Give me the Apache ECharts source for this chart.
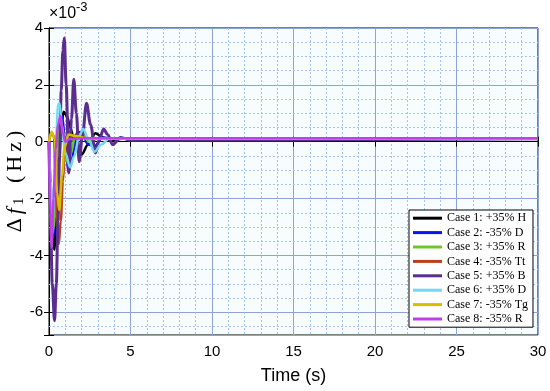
<!DOCTYPE html>
<html>
<head>
<meta charset="utf-8">
<script src="https://cdn.jsdelivr.net/npm/echarts@6/dist/echarts.min.js"></script>
<style>html,body{margin:0;padding:0;background:#fff;}#c{width:550px;height:391px;}</style>
</head>
<body>
<div id="c"></div>
<script>
// values in units of 1e-3 Hz, time in seconds
const caseNames = ['Case 1: +35% H','Case 2: -35% D','Case 3: +35% R','Case 4: -35% Tt','Case 5: +35% B','Case 6: +35% D','Case 7: -35% Tg','Case 8: -35% R'];
const caseColors = ['#000000','#1010f0','#6cc72a','#b8401f','#5b2d8e','#70d8f0','#d2c000','#c23ee8'];

const case1T = [0,0.1,0.2,0.32,0.45,0.6,0.75,0.9,1.1,1.3,1.6,2.0,2.4,2.85,3.3,3.8,4.5,30];
const case1V = [0,-1.5,-3.0,-3.8,-2.8,-0.8,0.6,1.05,0.9,0.5,-0.1,-0.45,-0.1,0.3,0.15,0.05,0.1,0.1];
const case2T = [0,0.1,0.22,0.35,0.5,0.65,0.8,1.0,1.2,1.4,1.7,2.0,2.4,2.8,3.3,4.0,30];
const case2V = [0,-1.8,-3.4,-3.0,-1.0,0.6,0.9,0.0,-1.05,-0.6,0.3,0.35,-0.1,-0.15,0.15,0.1,0.1];
const case3T = [0,0.1,0.22,0.35,0.5,0.65,0.8,1.0,1.15,1.35,1.6,2.0,2.5,3.0,30];
const case3V = [0,-1.6,-3.2,-2.7,-0.8,0.5,0.6,-0.3,-0.75,-0.4,0.2,0.25,0.0,0.1,0.1];
const case4T = [0,0.15,0.3,0.4,0.5,0.6,0.72,0.85,0.97,1.15,1.4,1.8,2.5,30];
const case4V = [0,0.3,0.2,-1.0,-2.8,-3.6,-2.8,-1.4,-0.4,0.05,0.2,0.22,0.12,0.1];
const case5T = [0,0.1,0.2,0.34,0.45,0.55,0.65,0.75,0.85,0.94,1.05,1.22,1.38,1.52,1.68,1.85,2.05,2.3,2.55,2.85,3.1,3.35,3.6,3.9,4.4,5.0,30];
const case5V = [0,-3.0,-5.0,-6.3,-5.0,-2.8,-0.5,1.8,3.2,3.65,2.0,-1.1,0.8,2.2,1.0,-0.7,0.2,1.35,0.6,-0.4,0.1,0.45,0.25,-0.1,0.15,0.05,0.1];
const case6T = [0,0.1,0.22,0.35,0.45,0.55,0.65,0.8,1.0,1.3,1.55,1.85,2.1,2.4,2.8,3.2,3.7,4.5,30];
const case6V = [0,-1.4,-2.6,-1.5,0.3,1.3,1.35,0.5,-0.4,-0.9,-0.5,0.2,0.45,0.1,-0.35,-0.1,0.1,0.1,0.1];
const case7T = [0,0.15,0.35,0.5,0.62,0.8,0.95,1.2,1.6,2.5,30];
const case7V = [0,0.35,0.1,-1.8,-2.4,-1.2,-0.2,0.25,0.2,0.1,0.1];
const case8T = [0,0.08,0.16,0.28,0.4,0.55,0.7,0.85,1.0,1.3,2.0,30];
const case8V = [0,-2.5,-3.7,-2.0,-0.3,0.6,0.9,0.3,0.0,0.1,0.12,0.12];

const caseT = [case1T,case2T,case3T,case4T,case5T,case6T,case7T,case8T];
const caseV = [case1V,case2V,case3V,case4V,case5V,case6V,case7V,case8V];

const xMin = 0, xMax = 30, xStep = 5;
const yMin = -6.8, yMax = 4;
const yMinorLines = [-6.5,-5.5,-5,-4.5,-3.5,-3,-2.5,-1.5,-1,-0.5,0.5,1,1.5,2.5,3,3.5];

const chart = echarts.init(document.getElementById('c'), null, {renderer:'canvas'});
const sans = 'Liberation Sans, Arial, sans-serif';
const serif = 'Liberation Serif, Times New Roman, serif';

const series = caseNames.map((n,i)=>{
  const s = {
    name: n, type: 'line', xAxisIndex: 0, yAxisIndex: 0,
    data: caseT[i].map((t,k)=>[t, caseV[i][k]]),
    showSymbol: false, symbol: 'none', smooth: 0.35, smoothMonotone: 'x',
    lineStyle: {color: caseColors[i], width: i===4 ? 3 : 2.5},
    itemStyle: {color: caseColors[i]},
    z: 3, animation: false
  };
  if (i===0) {
    s.markLine = {
      z: 1, silent: true, symbol: ['none','none'], label: {show:false},
      lineStyle: {color:'#a3c2ee', type:[2,2], width:1},
      data: yMinorLines.map(v=>({yAxis:v}))
    };
  }
  return s;
});

const ch = {fontFamily: serif, fontSize: 22, color: '#000', padding: [0,2,0,2]};
chart.setOption({
  animation: false,
  backgroundColor: '#ffffff',
  grid: {left: 49, right: 12, top: 28, bottom: 56, outerBoundsMode: 'none', containLabel: false,
         show: true, backgroundColor: '#f7fcfe', borderColor: '#000', borderWidth: 1},
  legend: {
    orient: 'vertical', left: 409, top: 210, padding: [1,5,1,4], itemGap: 0,
    icon: 'rect', itemWidth: 29, itemHeight: 3,
    backgroundColor: '#ffffff', borderColor: '#000', borderWidth: 1,
    textStyle: {fontFamily: serif, fontSize: 12, color: '#000', lineHeight: 14.4},
    data: caseNames
  },
  xAxis: [{
    type: 'value', min: xMin, max: xMax, interval: xStep, position: 'bottom',
    name: 'Time (s)', nameLocation: 'middle', nameGap: 32, nameMoveOverlap: false,
    nameTextStyle: {fontFamily: sans, fontSize: 18, color: '#000'},
    axisLine: {show: true, lineStyle: {color: '#000', width: 1}},
    axisTick: {show: true, inside: true, length: 5, lineStyle: {color: '#000'}},
    axisLabel: {fontFamily: sans, fontSize: 15, color: '#000', margin: 9},
    splitLine: {show: true, lineStyle: {color: '#8ea3dc', width: 1}},
    minorTick: {show: false, splitNumber: 5},
    minorSplitLine: {show: true, lineStyle: {color: '#a3c2ee', type: [2,2], width: 1}}
  },{
    type: 'value', min: xMin, max: xMax, interval: xStep, position: 'top',
    axisLine: {show: true, lineStyle: {color: '#000'}},
    axisTick: {show: true, inside: true, length: 5, lineStyle: {color: '#000'}},
    axisLabel: {show: false}, splitLine: {show: false}
  }],
  yAxis: [{
    type: 'value', min: yMin, max: yMax, splitNumber: 5, position: 'left',
    name: '{d|Δ}{f|f}{s|1}{d| }{d|(}{d|H}{d|z}{d|)}', nameLocation: 'middle', nameGap: 22, nameRotate: 90,
    nameMoveOverlap: false,
    nameTextStyle: {fontFamily: serif, fontSize: 22, color: '#000',
      rich: {
        d: ch,
        f: Object.assign({}, ch, {fontStyle: 'italic'}),
        s: {fontFamily: serif, fontSize: 15, color: '#000', verticalAlign: 'bottom', padding: [8,3,0,1]}
      }},
    axisLine: {show: true, lineStyle: {color: '#000', width: 1}},
    axisTick: {show: true, inside: true, length: 5, lineStyle: {color: '#000'}},
    axisLabel: {fontFamily: sans, fontSize: 15, color: '#000', margin: 6,
      formatter: v => (Math.abs(v % 2) < 1e-9 ? String(Math.round(v)) : '')},
    splitLine: {show: true, lineStyle: {color: '#8ea3dc', width: 1}}
  },{
    type: 'value', min: yMin, max: yMax, splitNumber: 5, position: 'right',
    axisLine: {show: true, lineStyle: {color: '#000'}},
    axisTick: {show: true, inside: true, length: 5, lineStyle: {color: '#000'}},
    axisLabel: {show: false}, splitLine: {show: false}
  }],
  graphic: [
    {type: 'text', left: 49, top: 6, style: {text: '×10', font: '16px ' + sans, fill: '#000'}},
    {type: 'text', left: 76, top: 1, style: {text: '-3', font: '13px ' + sans, fill: '#000'}}
  ],
  series: series
});
</script>
</body>
</html>
